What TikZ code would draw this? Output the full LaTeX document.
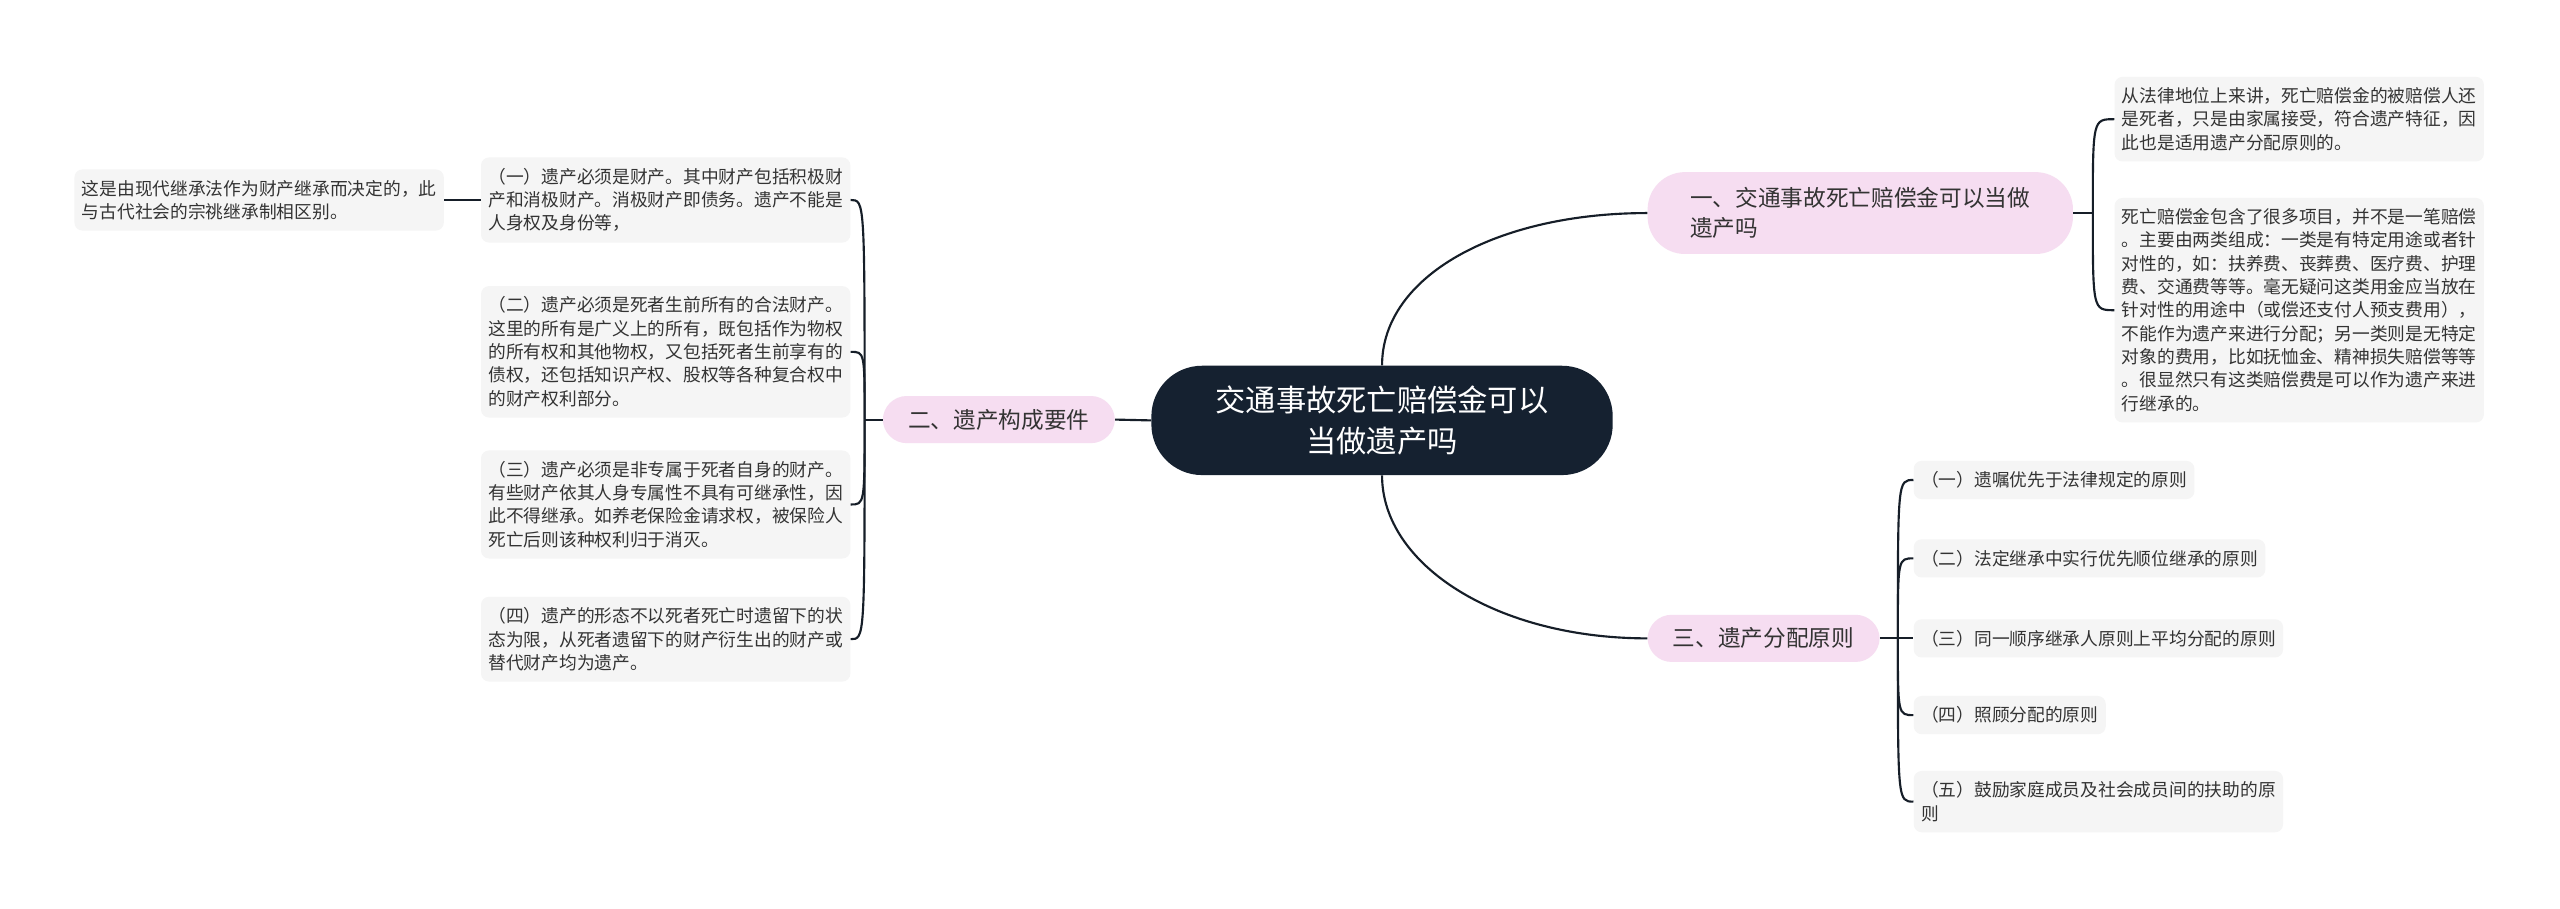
\documentclass[tikz,border=0pt]{standalone}
\usepackage{fontspec}
\setmainfont{Noto Sans CJK SC}
\usetikzlibrary{calc}
\usetikzlibrary{positioning}
\definecolor{dunkelblau}{RGB}{21,33,48}
\definecolor{rosa}{RGB}{246,221,241}
\definecolor{hellgrau}{RGB}{245,245,245}
\definecolor{textgrau}{RGB}{51,51,51}
\definecolor{linienfarbe}{RGB}{22,30,40}

\begin{document}
\begin{tikzpicture}[x=1.2245pt, y=-1.2245pt, % Bildpixel, y nach unten
  mainbox/.style={fill=dunkelblau, text=white, rounded corners=38pt, align=center,
    minimum width=346pt, minimum height=82pt, font=\fontsize{22.7}{30.6}\selectfont},
  topicbox/.style={fill=rosa, text=textgrau, rounded corners=18pt, align=left,
    inner xsep=19pt, inner ysep=9.8pt, font=\fontsize{17}{22.5}\selectfont},
  leafbox/.style={fill=hellgrau, text=textgrau, rounded corners=6pt, align=left,
    inner xsep=5.5pt, inner ysep=8pt, font=\fontsize{13.3}{17.5}\selectfont},
  breit/.style={text width=266pt},
  conn/.style={draw=linienfarbe, line width=1.6pt}]

% Rahmen
\fill[white] (0,0) rectangle (1568,556.7);
\useasboundingbox (0,0) rectangle (1568,556.7);

% Zentrum
\node[mainbox] (root) at (846.5,257.5) {交通事故死亡赔偿金可以\\当做遗产吗};

% Hauptzweige
\node[topicbox, anchor=west, rounded corners=28pt, inner xsep=32pt, inner ysep=11.5pt] (n1) at (1009,130.5) {一、交通事故死亡赔偿金可以当做\\遗产吗};
\node[topicbox, anchor=east] (n2) at (683,257) {二、遗产构成要件};
\node[topicbox, anchor=west] (n3) at (1009,391) {三、遗产分配原则};

\draw[conn] (root.north) .. controls ($(root.north)+(0,-55)$) and ($(n1.west)+(-92,0)$) .. (n1.west);
\draw[conn] (root.south) .. controls ($(root.south)+(0,55)$) and ($(n3.west)+(-92,0)$) .. (n3.west);
\draw[conn] (root.west) -- (n2.east);

% Zweig eins
\node[leafbox, breit, anchor=west] (a1) at (1295,73) {从法律地位上来讲，死亡赔偿金的被赔偿人还\\是死者，只是由家属接受，符合遗产特征，因\\此也是适用遗产分配原则的。};
\node[leafbox, breit, anchor=west] (a2) at (1295,190) {死亡赔偿金包含了很多项目，并不是一笔赔偿\\。主要由两类组成：一类是有特定用途或者针\\对性的，如：扶养费、丧葬费、医疗费、护理\\费、交通费等等。毫无疑问这类用金应当放在\\针对性的用途中（或偿还支付人预支费用），\\不能作为遗产来进行分配；另一类则是无特定\\对象的费用，比如抚恤金、精神损失赔偿等等\\。很显然只有这类赔偿费是可以作为遗产来进\\行继承的。};

\draw[conn] (n1.east) -- ++(12,0) coordinate (j1);
\foreach \c in {a1,a2} {
  \draw[conn] (j1) .. controls (j1 |- \c.west) and (j1 |- \c.west) .. (\c.west);
}

% Zweig zwei
\node[leafbox, breit, anchor=east] (b1) at (521,122.5) {（一）遗产必须是财产。其中财产包括积极财\\产和消极财产。消极财产即债务。遗产不能是\\人身权及身份等，};
\node[leafbox, breit, anchor=east] (b2) at (521,215.5) {（二）遗产必须是死者生前所有的合法财产。\\这里的所有是广义上的所有，既包括作为物权\\的所有权和其他物权，又包括死者生前享有的\\债权，还包括知识产权、股权等各种复合权中\\的财产权利部分。};
\node[leafbox, breit, anchor=east] (b3) at (521,309) {（三）遗产必须是非专属于死者自身的财产。\\有些财产依其人身专属性不具有可继承性，因\\此不得继承。如养老保险金请求权，被保险人\\死亡后则该种权利归于消灭。};
\node[leafbox, breit, anchor=east] (b4) at (521,391.5) {（四）遗产的形态不以死者死亡时遗留下的状\\态为限，从死者遗留下的财产衍生出的财产或\\替代财产均为遗产。};
\node[leafbox, breit, anchor=east] (b0) at (272,122.5) {这是由现代继承法作为财产继承而决定的，此\\与古代社会的宗祧继承制相区别。};

\draw[conn] (n2.west) -- ++(-11,0) coordinate (j2);
\foreach \c in {b1,b2,b3,b4} {
  \draw[conn] (j2) .. controls (j2 |- \c.east) and (j2 |- \c.east) .. (\c.east);
}
\draw[conn] (b1.west) -- (b0.east);

% Zweig drei
\foreach \i/\y/\t in {1/294/{（一）遗嘱优先于法律规定的原则},
                      2/342/{（二）法定继承中实行优先顺位继承的原则},
                      3/391/{（三）同一顺序继承人原则上平均分配的原则},
                      4/438/{（四）照顾分配的原则},
                      5/491/{（五）鼓励家庭成员及社会成员间的扶助的原\\则}} {
  \node[leafbox, anchor=west] (c\i) at (1172,\y) {\t};
}

\draw[conn] (n3.east) -- ++(11,0) coordinate (j3);
\foreach \i in {1,...,5} {
  \draw[conn] (j3) .. controls (j3 |- c\i.west) and (j3 |- c\i.west) .. (c\i.west);
}

\end{tikzpicture}
\end{document}
